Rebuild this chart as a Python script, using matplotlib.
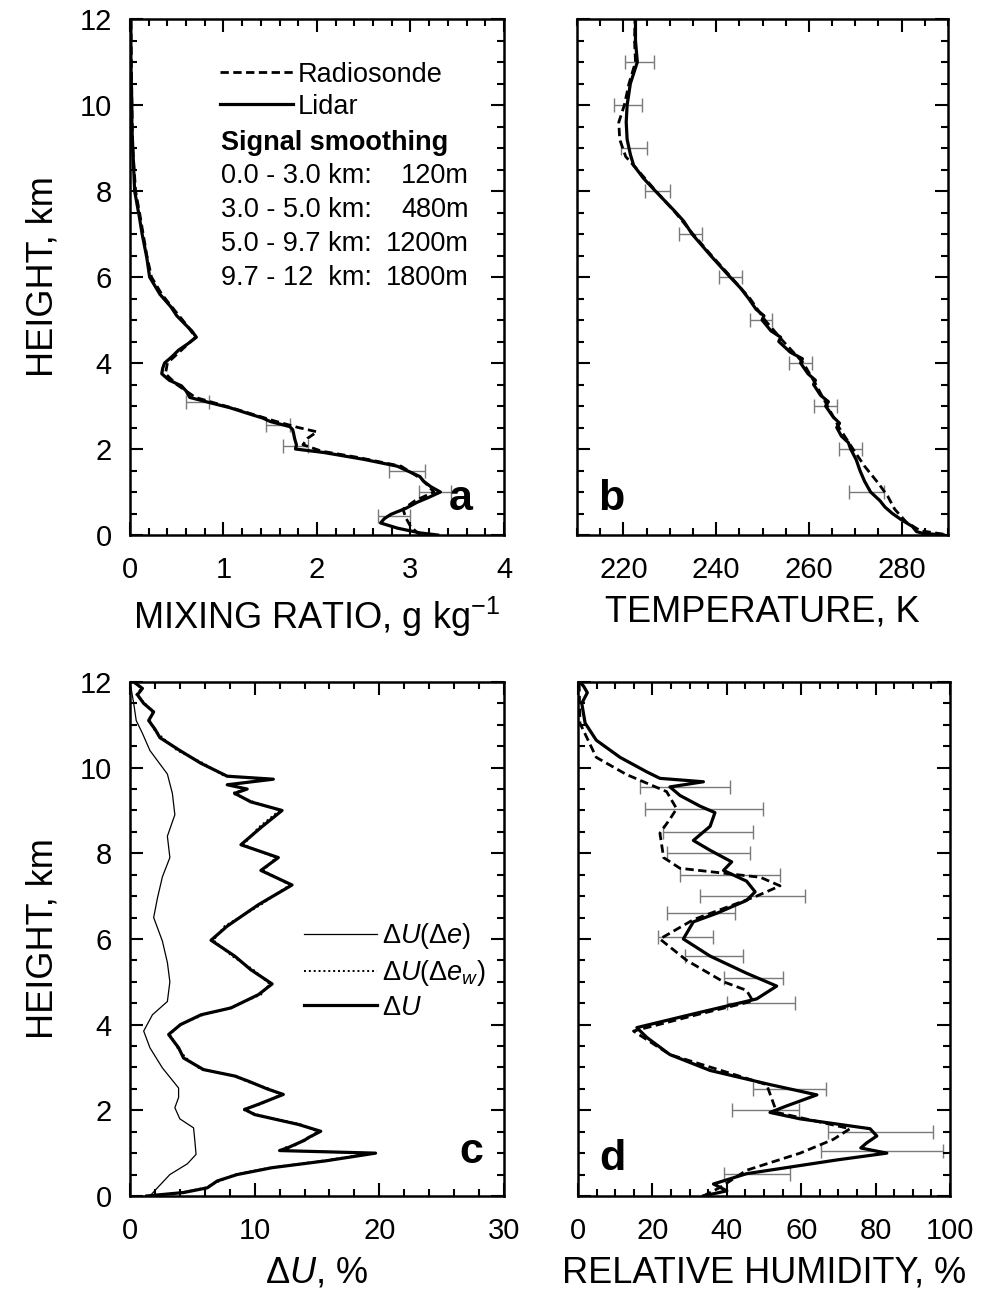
import matplotlib
matplotlib.use("Agg")
import matplotlib.pyplot as plt
import numpy as np
from matplotlib.ticker import MultipleLocator

plt.rcParams['font.family'] = ['Liberation Sans', 'DejaVu Sans']
plt.rcParams['mathtext.fontset'] = 'custom'
plt.rcParams['mathtext.rm'] = 'Liberation Sans'
plt.rcParams['mathtext.it'] = 'Liberation Sans:italic'
plt.rcParams['mathtext.bf'] = 'Liberation Sans:bold'

# ---- (a) water vapour mixing ratio, g/kg ----
mr_lidar_h = [0.0, 0.05, 0.16, 0.28, 0.38, 0.48, 0.62, 0.76, 0.88, 1.0, 1.12, 1.25, 1.36, 1.48,
              1.6, 1.76, 1.92, 2.0, 2.1, 2.25, 2.36, 2.45, 2.52, 2.64, 2.72, 2.8, 2.96, 3.08,
              3.2, 3.35, 3.47, 3.6, 3.75, 3.88, 4.0, 4.15, 4.3, 4.45, 4.6, 4.75, 4.9, 5.1,
              5.3, 5.6, 6.0, 6.45, 7.0, 7.4, 8.0, 8.5, 9.0, 9.5, 10.0, 11.0, 12.0]
mr_lidar = [3.29, 3.1, 2.86, 2.68, 2.72, 2.79, 2.95, 3.07, 3.2, 3.32, 3.22, 3.14, 3.1, 2.98,
            2.86, 2.5, 2.07, 1.77, 1.78, 1.76, 1.75, 1.74, 1.71, 1.5, 1.42, 1.3, 1.07, 0.85,
            0.64, 0.6, 0.55, 0.42, 0.34, 0.35, 0.37, 0.45, 0.52, 0.62, 0.71, 0.66, 0.59,
            0.5, 0.44, 0.32, 0.21, 0.18, 0.13, 0.1, 0.05, 0.04, 0.03, 0.02, 0.02, 0.01, 0.01]
mr_sonde_h = [0.0, 0.2, 0.4, 0.6, 0.8, 1.0, 1.3, 1.6, 1.8, 1.95, 2.1, 2.25, 2.4, 2.5, 2.65,
              2.95, 3.2, 3.5, 3.75, 4.0, 4.3, 4.6, 4.9, 5.3, 5.6, 6.0, 6.5, 7.4, 8.0, 9.0,
              10.0, 12.0]
mr_sonde = [3.1, 3.0, 2.95, 2.92, 3.05, 3.25, 3.12, 2.9, 2.45, 2.05, 1.85, 1.9, 2.0, 1.8,
            1.55, 1.1, 0.7, 0.5, 0.38, 0.4, 0.55, 0.7, 0.6, 0.45, 0.34, 0.23, 0.18, 0.11,
            0.06, 0.03, 0.02, 0.01]
mr_err_h = [0.44, 1.0, 1.48, 2.08, 2.56, 3.1]
mr_err_lo = [2.65, 3.09, 2.77, 1.64, 1.45, 0.6]
mr_err_hi = [3.0, 3.43, 3.16, 1.9, 1.71, 0.85]

smoothing_ranges = ["0.0 - 3.0 km:", "3.0 - 5.0 km:", "5.0 - 9.7 km:", "9.7 - 12  km:"]
smoothing_windows = ["120m", "480m", "1200m", "1800m"]

# ---- (b) temperature, K ----
t_lidar_h = [0.0, 0.04, 0.08, 0.2, 0.35, 0.5, 0.65, 0.8, 1.0, 1.25, 1.5, 1.75, 2.0, 2.15,
             2.3, 2.5, 2.6, 2.75, 3.0, 3.1, 3.25, 3.5, 3.6, 3.75, 4.0, 4.1, 4.25, 4.5, 4.6,
             4.75, 5.0, 5.1, 5.25, 5.5, 5.75, 6.0, 6.5, 7.0, 7.3, 7.55, 8.0, 8.3, 8.6, 8.85,
             9.2, 9.6, 10.0, 10.5, 11.0, 11.5, 12.0]
t_lidar = [289.0, 284.5, 283.2, 282.3, 280.0, 278.0, 276.4, 275.3, 273.3, 272.0, 271.0,
           270.2, 269.0, 268.5, 267.0, 266.0, 266.6, 265.2, 263.6, 264.2, 262.5, 261.0,
           261.4, 259.8, 258.2, 258.6, 256.0, 253.5, 253.9, 251.8, 249.9, 250.3, 248.6,
           247.0, 245.2, 243.0, 238.8, 234.8, 233.0, 230.9, 226.9, 224.3, 222.2, 221.5,
           220.8, 220.6, 220.8, 221.5, 223.0, 222.6, 222.6]
t_sonde_h = [0.02, 0.1, 0.3, 0.6, 0.9, 1.2, 1.6, 2.0, 2.5, 3.0, 3.5, 4.0, 4.5, 5.0, 5.5, 6.0,
             6.5, 7.0, 7.5, 8.0, 8.4, 8.8, 9.2, 9.6, 10.0, 10.5, 11.0, 11.5, 12.0]
t_sonde = [289.0, 284.0, 281.0, 278.5, 277.0, 275.0, 272.0, 269.5, 266.5, 264.0, 261.5,
           258.8, 254.5, 250.5, 247.3, 243.2, 239.0, 235.0, 231.2, 227.0, 223.8, 220.5,
           219.2, 219.0, 220.2, 221.2, 222.6, 222.4, 222.5]
t_err_h = [1, 2, 3, 4, 5, 6, 7, 8, 9, 10, 11]
t_err_lo = [268.6, 266.4, 261.0, 255.7, 247.4, 240.6, 232.0, 224.7, 219.4, 218.0, 220.4]
t_err_hi = [276.2, 271.5, 266.0, 260.7, 252.0, 245.6, 237.0, 230.0, 225.0, 224.0, 226.5]

# ---- (c) relative humidity uncertainty, % ----
du_h = [0.0, 0.08, 0.19, 0.35, 0.5, 0.66, 0.82, 1.0, 1.06, 1.13, 1.17, 1.3, 1.36, 1.51,
        1.67, 1.9, 2.02, 2.14, 2.37, 2.5, 2.68, 2.8, 2.95, 3.22, 3.46, 3.77, 4.0, 4.23,
        4.39, 4.7, 4.95, 5.28, 5.6, 5.97, 6.3, 6.8, 7.26, 7.6, 7.9, 8.2, 8.6, 9.0, 9.2,
        9.4, 9.5, 9.6, 9.73, 9.8, 10.1, 10.4, 10.7, 10.9, 11.1, 11.3, 11.5, 11.7, 11.85,
        12.0]
du_total = [1.35, 4.3, 6.2, 7.0, 8.6, 11.4, 15.7, 19.7, 12.0, 12.7, 13.0, 14.0, 14.3,
            15.3, 13.5, 10.0, 9.2, 10.3, 12.3, 11.0, 9.5, 8.4, 5.9, 4.3, 3.9, 3.1, 4.05,
            5.7, 8.1, 10.3, 11.4, 9.7, 8.4, 6.5, 7.8, 10.3, 13.0, 10.5, 11.9, 8.9, 10.5,
            12.2, 9.7, 8.4, 9.4, 7.8, 11.5, 7.8, 5.7, 4.0, 2.4, 2.0, 1.5, 1.9, 1.1, 0.6,
            1.0, 0.3]
du_ew = [1.3, 4.1, 6.0, 7.2, 8.4, 11.2, 15.4, 19.5, 12.3, 12.4, 13.2, 13.8, 14.5, 15.0,
         13.7, 10.2, 9.0, 10.5, 12.1, 11.2, 9.3, 8.6, 5.7, 4.5, 3.8, 3.2, 4.0, 5.9, 8.0,
         10.5, 11.2, 9.9, 8.2, 6.7, 7.6, 10.5, 12.8, 10.7, 11.7, 9.1, 10.3, 12.0, 9.9,
         8.2, 9.2, 8.0, 11.3, 7.6, 5.9, 3.8, 2.6, 1.9, 1.6, 1.8, 1.2, 0.5, 0.9, 0.3]
du_e_h = [0.0, 0.19, 0.5, 0.75, 0.97, 1.3, 1.59, 1.8, 2.06, 2.3, 2.52, 2.99, 3.46, 3.85,
          4.23, 4.54, 5.0, 5.45, 5.95, 6.5, 6.95, 7.45, 7.9, 8.4, 8.9, 9.4, 9.85, 10.4,
          10.8, 11.1, 11.5, 12.0]
du_e = [1.6, 2.2, 3.2, 4.6, 5.3, 5.2, 5.1, 4.0, 3.6, 3.9, 3.9, 2.6, 1.6, 1.1, 1.8, 3.0,
        3.2, 3.0, 2.6, 1.9, 2.2, 2.6, 3.2, 3.0, 3.6, 3.4, 3.0, 1.6, 1.0, 0.5, 0.3, 0.0]

# ---- (d) relative humidity, % ----
rh_lidar_h = [0.0, 0.12, 0.28, 0.52, 0.84, 1.0, 1.12, 1.24, 1.4, 1.57, 1.8, 1.95, 2.1, 2.36,
              2.6, 2.93, 3.3, 3.7, 3.93, 4.25, 4.6, 4.9, 5.2, 5.6, 6.0, 6.4, 6.6, 6.9, 7.1,
              7.35, 7.6, 7.8, 8.07, 8.3, 8.63, 8.95, 9.1, 9.35, 9.55, 9.67, 9.75, 9.9,
              10.24, 10.64, 11.04, 11.5, 11.75, 11.9, 12.0]
rh_lidar = [33.7, 40.0, 36.4, 45.3, 69.5, 83.0, 76.0, 77.6, 80.3, 78.5, 59.7, 51.6, 56.0,
            64.2, 51.6, 35.5, 24.7, 18.5, 15.8, 31.0, 48.0, 53.4, 45.3, 35.5, 28.3, 31.0,
            37.3, 45.3, 47.6, 45.3, 39.1, 41.3, 35.5, 31.0, 35.5, 36.8, 32.8, 27.4, 24.7,
            33.7, 22.0, 18.5, 11.3, 4.9, 1.9, 1.0, 2.5, 1.5, 0.5]
rh_sonde_h = [0.0, 0.2, 0.6, 1.0, 1.32, 1.57, 1.95, 2.6, 3.3, 3.85, 4.25, 4.55, 4.8, 5.0,
              5.5, 6.0, 6.45, 7.0, 7.24, 7.44, 7.65, 7.9, 8.47, 8.8, 9.04, 9.44, 9.84,
              10.24, 11.04, 12.0]
rh_sonde = [33.7, 38.2, 45.3, 59.7, 68.6, 73.1, 53.4, 50.7, 24.7, 14.9, 32.8, 47.0, 45.3,
            39.1, 29.2, 22.0, 31.0, 48.0, 54.3, 49.0, 27.4, 23.0, 22.0, 24.7, 26.5, 23.8,
            13.0, 4.9, 0.5, 0.3]
rh_err_h = [0.52, 1.05, 1.5, 2.0, 2.5, 4.5, 5.1, 5.6, 6.05, 6.6, 7.0, 7.5, 8.0, 8.5, 9.04, 9.55]
rh_err_lo = [39.1, 65.4, 67.2, 41.3, 47.0, 40.0, 39.1, 28.8, 21.6, 23.8, 32.8, 27.4, 23.8,
             22.9, 18.0, 16.7]
rh_err_hi = [57.0, 98.1, 95.4, 59.3, 66.7, 58.3, 55.2, 44.4, 36.4, 42.2, 61.0, 54.3, 46.2,
             47.1, 49.8, 40.9]

TICK_FS = 21
LABEL_FS = 26
LEG_FS = 19.5
ERR_COLOR = '#7a7a7a'


def style_axis(ax, xlim, xmajor, xminor, show_ylabels):
    ax.set_xlim(*xlim)
    ax.set_ylim(0, 12)
    ax.xaxis.set_major_locator(MultipleLocator(xmajor))
    ax.xaxis.set_minor_locator(MultipleLocator(xminor))
    ax.yaxis.set_major_locator(MultipleLocator(2))
    ax.yaxis.set_minor_locator(MultipleLocator(0.5))
    ax.tick_params(which='both', direction='in', top=True, right=True, width=1.5)
    ax.tick_params(which='major', length=9.5)
    ax.tick_params(which='minor', length=5)
    ax.tick_params(axis='x', labelsize=TICK_FS, pad=15)
    ax.tick_params(axis='y', labelsize=TICK_FS, pad=13, labelleft=show_ylabels)
    for s in ax.spines.values():
        s.set_linewidth(1.8)
    if show_ylabels:
        ax.set_ylabel('HEIGHT, km', fontsize=LABEL_FS, labelpad=14)


def err_bars(ax, h, lo, hi):
    lo = np.asarray(lo)
    hi = np.asarray(hi)
    ax.errorbar((lo + hi) / 2, h, xerr=(hi - lo) / 2, fmt='none', ecolor=ERR_COLOR,
                elinewidth=1.0, capsize=5, capthick=1.0, zorder=1)


fig = plt.figure(figsize=(10.06, 12.97), dpi=100)
ax_a = fig.add_axes([0.1292, 0.5875, 0.3718, 0.3978])
ax_b = fig.add_axes([0.5736, 0.5875, 0.3688, 0.3978])
ax_c = fig.add_axes([0.1292, 0.0779, 0.3718, 0.3963])
ax_d = fig.add_axes([0.5746, 0.0779, 0.3698, 0.3963])

# (a)
err_bars(ax_a, mr_err_h, mr_err_lo, mr_err_hi)
l_sonde, = ax_a.plot(mr_sonde, mr_sonde_h, color='black', lw=2.0, ls=(0, (3, 1.6)),
                     label='Radiosonde')
l_lidar, = ax_a.plot(mr_lidar, mr_lidar_h, color='black', lw=2.3, label='Lidar')
style_axis(ax_a, (0, 4), 1, 0.2, True)
ax_a.set_xlabel('MIXING RATIO, g kg$^{-1}$', fontsize=LABEL_FS, labelpad=8)
ax_a.legend(handles=[l_sonde, l_lidar], loc='upper left', bbox_to_anchor=(0.225, 0.928),
            frameon=False, fontsize=LEG_FS, handlelength=2.7, handletextpad=0.2,
            labelspacing=0.22, borderpad=0.2, borderaxespad=0)
ax_a.text(0.243, 0.76, 'Signal smoothing', transform=ax_a.transAxes, fontsize=LEG_FS,
          fontweight='bold', va='center', ha='left')
for i, (rng, win) in enumerate(zip(smoothing_ranges, smoothing_windows)):
    yy = 0.696 - i * 0.066
    ax_a.text(0.243, yy, rng, transform=ax_a.transAxes, fontsize=LEG_FS, va='center',
              ha='left')
    ax_a.text(0.905, yy, win, transform=ax_a.transAxes, fontsize=LEG_FS, va='center',
              ha='right')
ax_a.text(0.917, 0.048, 'a', transform=ax_a.transAxes, fontsize=31, fontweight='bold',
          ha='right', va='baseline')

# (b)
err_bars(ax_b, t_err_h, t_err_lo, t_err_hi)
ax_b.plot(t_sonde, t_sonde_h, color='black', lw=2.0, ls=(0, (3, 1.6)))
ax_b.plot(t_lidar, t_lidar_h, color='black', lw=2.3)
style_axis(ax_b, (210, 290), 20, 5, False)
ax_b.set_xlabel('TEMPERATURE, K', fontsize=LABEL_FS, labelpad=8)
ax_b.text(0.057, 0.048, 'b', transform=ax_b.transAxes, fontsize=31, fontweight='bold',
          ha='left', va='baseline')

# (c)
l_e, = ax_c.plot(du_e, du_e_h, color='black', lw=0.9, label=r'$\Delta U(\Delta e)$')
l_ew, = ax_c.plot(du_ew, du_h, color='black', lw=1.4, ls=(0, (1, 1.5)),
                  label=r'$\Delta U(\Delta e_w)$')
l_du, = ax_c.plot(du_total, du_h, color='black', lw=2.3, label=r'$\Delta U$')
style_axis(ax_c, (0, 30), 10, 2, True)
ax_c.set_xlabel(r'$\Delta U$, %', fontsize=LABEL_FS, labelpad=8)
ax_c.legend(handles=[l_e, l_ew, l_du], loc='upper left', bbox_to_anchor=(0.45, 0.545),
            frameon=False, fontsize=LEG_FS, handlelength=2.7, handletextpad=0.2,
            labelspacing=0.25, borderpad=0.2, borderaxespad=0)
ax_c.text(0.944, 0.064, 'c', transform=ax_c.transAxes, fontsize=31, fontweight='bold',
          ha='right', va='baseline')

# (d)
err_bars(ax_d, rh_err_h, rh_err_lo, rh_err_hi)
ax_d.plot(rh_sonde, rh_sonde_h, color='black', lw=2.0, ls=(0, (3, 1.6)))
ax_d.plot(rh_lidar, rh_lidar_h, color='black', lw=2.3)
style_axis(ax_d, (0, 100), 20, 5, False)
ax_d.set_xlabel('RELATIVE HUMIDITY, %', fontsize=LABEL_FS, labelpad=8)
ax_d.text(0.057, 0.05, 'd', transform=ax_d.transAxes, fontsize=31, fontweight='bold',
          ha='left', va='baseline')

fig.savefig('out.png', dpi=100, facecolor='white')
